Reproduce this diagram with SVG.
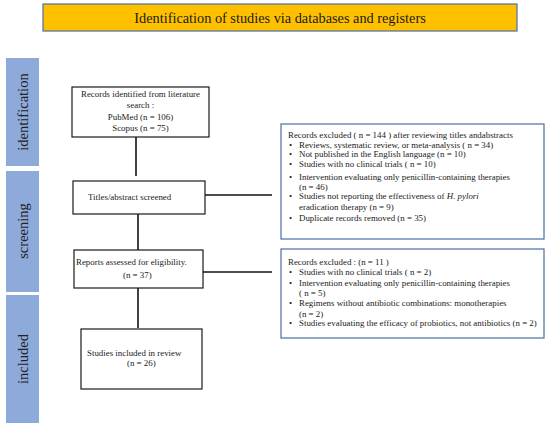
<svg xmlns="http://www.w3.org/2000/svg" width="550" height="427" viewBox="0 0 550 427">
<style>
text{font-family:"Liberation Serif","Times New Roman",serif;fill:#1a1a1a}
.t{font-size:8.9px}
.side{fill:#8eaadb}
.sl{font-size:14.5px;text-anchor:middle;fill:#222}
.box{fill:#fff;stroke:#1a1a1a;stroke-width:1.2}
.ex{fill:#fff;stroke:#4a6fa5;stroke-width:1.2}
.c{stroke:#111;stroke-width:1.6;fill:none}
</style>
<rect width="550" height="427" fill="#fff"/>
<g id="title">
<rect x="43" y="4" width="474" height="27" fill="#ffc000" stroke="#4a6fa5" stroke-width="1.2"/>
<text x="280" y="22.5" text-anchor="middle" font-size="14.3">Identification of studies via databases and registers</text>
</g>
<g id="phase-identification">
<rect class="side" x="6" y="58" width="33" height="108"/>
<text class="sl" transform="translate(27.5,112) rotate(-90)">identification</text>
</g>
<g id="phase-screening">
<rect class="side" x="6" y="171" width="33" height="121"/>
<text class="sl" transform="translate(27.5,231) rotate(-90)">screening</text>
</g>
<g id="phase-included">
<rect class="side" x="6" y="295" width="33" height="128"/>
<text class="sl" transform="translate(27.5,359) rotate(-90)">included</text>
</g>
<g id="connectors">
<line class="c" x1="136" y1="137" x2="136" y2="176"/>
<line class="c" x1="205" y1="195" x2="272" y2="195"/>
<line class="c" x1="138" y1="214" x2="138" y2="250"/>
<line class="c" x1="203" y1="272" x2="272" y2="272"/>
<line class="c" x1="138" y1="288" x2="138" y2="328"/>
</g>
<g id="records-identified">
<rect class="box" x="72" y="87" width="137" height="50"/>
<text class="t" text-anchor="middle" x="140.5" y="97">Records identified from literature</text>
<text class="t" text-anchor="middle" x="140.5" y="108">search :</text>
<text class="t" text-anchor="middle" x="140.5" y="120">PubMed (n = 106)</text>
<text class="t" text-anchor="middle" x="140.5" y="131">Scopus (n = 75)</text>
</g>
<g id="titles-screened">
<rect class="box" x="73" y="181" width="132" height="33"/>
<text class="t" x="88" y="200">Titles/abstract screened</text>
</g>
<g id="reports-assessed">
<rect class="box" x="74" y="250" width="129" height="38"/>
<text class="t" x="76" y="265">Reports assessed for eligibility.</text>
<text class="t" x="123" y="278">(n = 37)</text>
</g>
<g id="studies-included">
<rect class="box" x="81" y="329" width="121" height="60"/>
<text class="t" x="87" y="356">Studies included in review</text>
<text class="t" x="127" y="366">(n = 26)</text>
</g>
<g id="excluded-screening">
<rect class="ex" x="281" y="124" width="263" height="115"/>
<text class="t" x="288" y="138">Records excluded ( n = 144 ) after reviewing titles andabstracts</text>
<text class="t" x="289" y="148">•</text><text class="t" x="299" y="148">Reviews, systematic review, or meta-analysis ( n = 34)</text>
<text class="t" x="289" y="157">•</text><text class="t" x="299" y="157">Not published  in the English language (n = 10)</text>
<text class="t" x="289" y="167">•</text><text class="t" x="299" y="167">Studies with  no clinical trials ( n = 10)</text>
<text class="t" x="289" y="180">•</text><text class="t" x="299" y="180">Intervention evaluating only penicillin-containing therapies</text>
<text class="t" x="299" y="190">(n = 46)</text>
<text class="t" x="289" y="199">•</text><text class="t" x="299" y="199">Studies not reporting the effectiveness of <tspan font-style="italic">H. pylori</tspan></text>
<text class="t" x="299" y="210">eradication therapy (n = 9)</text>
<text class="t" x="289" y="221">•</text><text class="t" x="299" y="221">Duplicate records removed  (n = 35)</text>
</g>
<g id="excluded-eligibility">
<rect class="ex" x="281" y="249" width="263" height="89"/>
<text class="t" x="288" y="265">Records excluded :  (n = 11 )</text>
<text class="t" x="289" y="275">•</text><text class="t" x="299" y="275">Studies with  no clinical trials ( n = 2)</text>
<text class="t" x="289" y="286">•</text><text class="t" x="299" y="286">Intervention evaluating only penicillin-containing therapies</text>
<text class="t" x="299" y="296">( n = 5)</text>
<text class="t" x="289" y="306">•</text><text class="t" x="299" y="306">Regimens without antibiotic combinations: monotherapies</text>
<text class="t" x="299" y="317">(n = 2)</text>
<text class="t" x="289" y="326">•</text><text class="t" x="299" y="326">Studies evaluating the efficacy of probiotics, not antibiotics (n = 2)</text>
</g>
</svg>
